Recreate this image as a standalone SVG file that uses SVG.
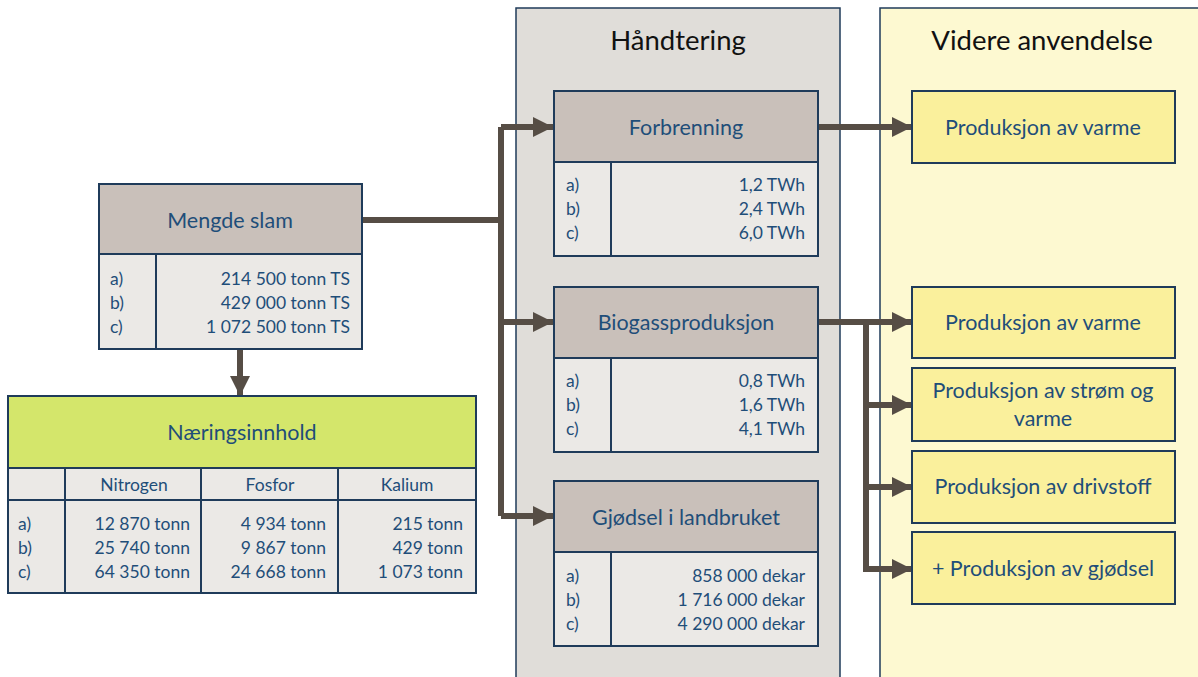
<svg xmlns="http://www.w3.org/2000/svg" width="1198" height="677" viewBox="0 0 1198 677">
<style>
text{font-family:Lato,"Open Sans","Liberation Sans",sans-serif;fill:#1f4e79}
.t{font-size:21.5px;text-anchor:middle}
.d{font-size:17.5px}
.r{text-anchor:end}
.m{text-anchor:middle}
.h{font-size:27.5px;fill:#111;text-anchor:middle}
.hd{fill:#c9c0ba;stroke:#1f3b5a;stroke-width:2}
.tb{fill:#ebe9e6;stroke:#1f3b5a;stroke-width:2}
.y{fill:#faf09c;stroke:#1f3b5a;stroke-width:2}
.c{fill:none;stroke:#564d45;stroke-width:6}
</style>
<defs>
<marker id="a" markerUnits="userSpaceOnUse" markerWidth="22" markerHeight="22" refX="20" refY="11" orient="auto">
<polygon points="0,1 20,11 0,21" fill="#564d45"/>
</marker>
</defs>
<rect width="1198" height="677" fill="#fff"/>
<g id="handtering-panel">
<rect x="516" y="8" width="324" height="680" fill="#e0ddd9" stroke="#1f3b5a" stroke-width="1.5"/>
<text class="h" x="678" y="50">Håndtering</text>
</g>
<g id="videre-panel">
<rect x="880" y="8" width="330" height="680" fill="#fdf9d1" stroke="#1f3b5a" stroke-width="1.5"/>
<text class="h" x="1042" y="50">Videre anvendelse</text>
</g>
<g id="connectors">
<polyline class="c" points="362,220 501,220"/>
<polyline class="c" points="501,127 501,516"/>
<polyline class="c" points="501,127 553,127" marker-end="url(#a)"/>
<polyline class="c" points="501,322 553,322" marker-end="url(#a)"/>
<polyline class="c" points="501,516 553,516" marker-end="url(#a)"/>
<polyline class="c" points="240,349 240,396" marker-end="url(#a)"/>
<polyline class="c" points="818,127 912,127" marker-end="url(#a)"/>
<polyline class="c" points="818,322 912,322" marker-end="url(#a)"/>
<polyline class="c" points="866,322 866,569"/>
<polyline class="c" points="866,405 912,405" marker-end="url(#a)"/>
<polyline class="c" points="866,487 912,487" marker-end="url(#a)"/>
<polyline class="c" points="863,569 912,569" marker-end="url(#a)"/>
</g>
<g id="mengde-slam">
<rect class="hd" x="99" y="184" width="263" height="70"/>
<rect class="tb" x="99" y="254" width="263" height="95"/>
<line x1="156" y1="254" x2="156" y2="349" stroke="#1f3b5a" stroke-width="2"/>
<text class="t" x="230" y="228">Mengde slam</text>
<text class="d" x="110" y="285">a)</text>
<text class="d" x="110" y="309">b)</text>
<text class="d" x="110" y="333">c)</text>
<text class="d r" x="350" y="285">214 500 tonn TS</text>
<text class="d r" x="350" y="309">429 000 tonn TS</text>
<text class="d r" x="350" y="333">1 072 500 tonn TS</text>
</g>
<g id="naeringsinnhold">
<rect x="8" y="396" width="468" height="72" fill="#d4e66b" stroke="#1f3b5a" stroke-width="2"/>
<rect class="tb" x="8" y="468" width="468" height="32"/>
<rect class="tb" x="8" y="500" width="468" height="93"/>
<line x1="65" y1="468" x2="65" y2="593" stroke="#1f3b5a" stroke-width="2"/>
<line x1="201" y1="468" x2="201" y2="593" stroke="#1f3b5a" stroke-width="2"/>
<line x1="338" y1="468" x2="338" y2="593" stroke="#1f3b5a" stroke-width="2"/>
<text class="t" x="242" y="440">Næringsinnhold</text>
<text class="d m" x="134" y="491">Nitrogen</text>
<text class="d m" x="270" y="491">Fosfor</text>
<text class="d m" x="407" y="491">Kalium</text>
<text class="d" x="18" y="530">a)</text>
<text class="d" x="18" y="554">b)</text>
<text class="d" x="18" y="578">c)</text>
<text class="d r" x="190" y="530">12 870 tonn</text>
<text class="d r" x="190" y="554">25 740 tonn</text>
<text class="d r" x="190" y="578">64 350 tonn</text>
<text class="d r" x="326" y="530">4 934 tonn</text>
<text class="d r" x="326" y="554">9 867 tonn</text>
<text class="d r" x="326" y="578">24 668 tonn</text>
<text class="d r" x="463" y="530">215 tonn</text>
<text class="d r" x="463" y="554">429 tonn</text>
<text class="d r" x="463" y="578">1 073 tonn</text>
</g>
<g id="forbrenning">
<rect class="hd" x="554" y="91" width="264" height="71"/>
<rect class="tb" x="554" y="162" width="264" height="94"/>
<line x1="611" y1="162" x2="611" y2="256" stroke="#1f3b5a" stroke-width="2"/>
<text class="t" x="686" y="135">Forbrenning</text>
<text class="d" x="566" y="191">a)</text>
<text class="d" x="566" y="215">b)</text>
<text class="d" x="566" y="239">c)</text>
<text class="d r" x="805" y="191">1,2 TWh</text>
<text class="d r" x="805" y="215">2,4 TWh</text>
<text class="d r" x="805" y="239">6,0 TWh</text>
</g>
<g id="biogass">
<rect class="hd" x="554" y="287" width="264" height="71"/>
<rect class="tb" x="554" y="358" width="264" height="94"/>
<line x1="611" y1="358" x2="611" y2="452" stroke="#1f3b5a" stroke-width="2"/>
<text class="t" x="686" y="330">Biogassproduksjon</text>
<text class="d" x="566" y="387">a)</text>
<text class="d" x="566" y="411">b)</text>
<text class="d" x="566" y="435">c)</text>
<text class="d r" x="805" y="387">0,8 TWh</text>
<text class="d r" x="805" y="411">1,6 TWh</text>
<text class="d r" x="805" y="435">4,1 TWh</text>
</g>
<g id="gjodsel">
<rect class="hd" x="554" y="481" width="264" height="71"/>
<rect class="tb" x="554" y="552" width="264" height="94"/>
<line x1="611" y1="552" x2="611" y2="646" stroke="#1f3b5a" stroke-width="2"/>
<text class="t" x="686" y="525">Gjødsel i landbruket</text>
<text class="d" x="566" y="582">a)</text>
<text class="d" x="566" y="606">b)</text>
<text class="d" x="566" y="630">c)</text>
<text class="d r" x="805" y="582">858 000 dekar</text>
<text class="d r" x="805" y="606">1 716 000 dekar</text>
<text class="d r" x="805" y="630">4 290 000 dekar</text>
</g>
<g id="varme1">
<rect class="y" x="912" y="91" width="263" height="72"/>
<text class="t" x="1043" y="135">Produksjon av varme</text>
</g>
<g id="varme2">
<rect class="y" x="912" y="287" width="263" height="71"/>
<text class="t" x="1043" y="330">Produksjon av varme</text>
</g>
<g id="strom">
<rect class="y" x="912" y="368" width="263" height="73"/>
<text class="t" x="1043" y="398">Produksjon av strøm og</text>
<text class="t" x="1043" y="426">varme</text>
</g>
<g id="drivstoff">
<rect class="y" x="912" y="451" width="263" height="72"/>
<text class="t" x="1043" y="494">Produksjon av drivstoff</text>
</g>
<g id="gjodsel-prod">
<rect class="y" x="912" y="532" width="263" height="72"/>
<text class="t" x="1043" y="576">+ Produksjon av gjødsel</text>
</g>
</svg>
